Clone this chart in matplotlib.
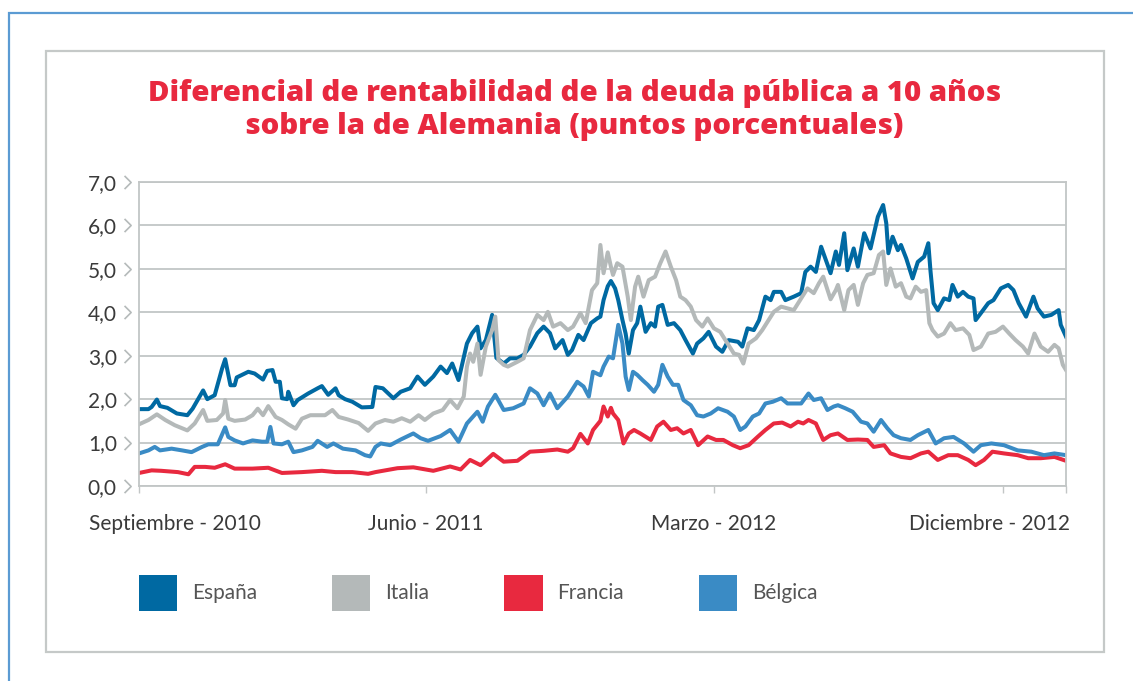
import pandas as pd
import matplotlib
matplotlib.use('Agg')
import matplotlib.pyplot as plt
import matplotlib.dates as mdates
from matplotlib.patches import Patch, Rectangle
from matplotlib.path import Path
import matplotlib.transforms as mtransforms

# Datos (dias desde el 1-sep-2010, puntos porcentuales)
inicio = pd.Timestamp('2010-09-01')
fin = pd.Timestamp('2013-01-30')

dias_espana = [0, 9, 12, 17, 20, 27, 36, 46, 51, 61, 65, 72, 79, 82, 87, 91, 93, 104, 110, 118,
               122, 127, 130, 134, 136, 141, 142, 147, 151, 161, 170, 174, 180, 187, 190, 196, 203, 212, 222, 225,
               232, 242, 249, 258, 265, 272, 280, 287, 293, 298, 304, 312, 317, 322, 325, 330, 336, 340, 347, 353,
               360, 366, 372, 379, 385, 391, 396, 403, 408, 412, 418, 423, 430, 436, 439, 442, 446, 449, 453, 456,
               460, 463, 466, 470, 474, 477, 482, 487, 491, 494, 498, 503, 509, 515, 520, 527, 531, 537, 542, 549,
               555, 561, 570, 574, 579, 585, 590, 596, 601, 604, 611, 615, 623, 630, 634, 639, 644, 649, 653, 658,
               663, 666, 671, 674, 680, 684, 690, 696, 703, 708, 711, 713, 717, 722, 725, 730, 736, 741, 747, 751,
               753, 756, 760, 766, 771, 774, 779, 784, 789, 794, 796, 801, 808, 813, 820, 827, 832, 837, 844, 851,
               855, 861, 868, 875, 877, 882]
espana = [1.77, 1.77, 1.82, 1.99, 1.84, 1.80, 1.67, 1.63, 1.78, 2.20, 2.00, 2.09, 2.70, 2.92, 2.32, 2.32, 2.50, 2.63, 2.59, 2.45,
          2.65, 2.67, 2.40, 2.40, 2.02, 2.00, 2.17, 1.86, 1.98, 2.13, 2.25, 2.30, 2.10, 2.25, 2.09, 2.00, 1.94, 1.81, 1.82, 2.28,
          2.25, 2.02, 2.17, 2.25, 2.52, 2.33, 2.52, 2.75, 2.60, 2.82, 2.44, 3.28, 3.52, 3.67, 3.17, 3.36, 3.94, 2.95, 2.82, 2.94,
          2.94, 3.02, 3.21, 3.52, 3.67, 3.52, 3.17, 3.36, 3.02, 3.13, 3.48, 3.36, 3.75, 3.86, 3.90, 4.28, 4.60, 4.72, 4.55, 4.28,
          3.82, 3.51, 3.05, 3.59, 3.75, 4.13, 3.55, 3.75, 3.67, 4.13, 4.17, 3.71, 3.75, 3.59, 3.36, 3.05, 3.28, 3.40, 3.55, 3.21,
          3.09, 3.36, 3.32, 3.21, 3.63, 3.59, 3.82, 4.36, 4.28, 4.47, 4.47, 4.28, 4.36, 4.44, 4.93, 5.05, 4.93, 5.51, 5.24, 4.90,
          5.40, 5.09, 5.82, 4.97, 5.47, 5.05, 5.82, 5.47, 6.20, 6.47, 6.05, 5.36, 5.74, 5.43, 5.55, 5.24, 4.78, 5.16, 5.28, 5.59,
          4.97, 4.21, 4.05, 4.32, 4.28, 4.63, 4.36, 4.47, 4.36, 4.32, 3.82, 3.98, 4.21, 4.28, 4.55, 4.63, 4.51, 4.21, 3.90, 4.36,
          4.09, 3.90, 3.94, 4.05, 3.71, 3.44]

dias_italia = [0, 9, 17, 25, 34, 46, 53, 61, 65, 74, 80, 82, 85, 91, 101, 108, 113, 118, 123, 130,
               136, 142, 149, 155, 163, 170, 177, 184, 190, 199, 209, 218, 225, 234, 242, 250, 258, 266, 272, 280,
               289, 296, 303, 309, 312, 315, 318, 322, 325, 330, 336, 339, 342, 347, 351, 360, 366, 372, 379, 385,
               389, 394, 401, 408, 413, 420, 425, 431, 436, 439, 442, 446, 449, 451, 455, 460, 465, 468, 472, 475,
               480, 485, 491, 496, 501, 506, 511, 515, 520, 525, 530, 536, 541, 547, 553, 560, 566, 571, 575, 580,
               587, 593, 599, 604, 611, 617, 623, 630, 636, 642, 647, 651, 658, 663, 665, 671, 675, 680, 684, 689,
               693, 699, 704, 708, 711, 715, 720, 725, 730, 734, 739, 744, 749, 752, 755, 760, 766, 772, 777, 784,
               790, 794, 801, 808, 815, 822, 828, 834, 841, 846, 852, 858, 865, 871, 875, 879, 882]
italia = [1.42, 1.52, 1.65, 1.52, 1.40, 1.28, 1.44, 1.75, 1.50, 1.52, 1.67, 1.98, 1.55, 1.50, 1.53, 1.63, 1.78, 1.63, 1.84, 1.59,
          1.52, 1.42, 1.32, 1.55, 1.63, 1.63, 1.63, 1.75, 1.59, 1.53, 1.45, 1.27, 1.44, 1.52, 1.48, 1.56, 1.48, 1.63, 1.52, 1.67,
          1.75, 1.98, 1.79, 2.06, 2.75, 3.05, 2.86, 3.28, 2.56, 3.21, 3.59, 3.90, 2.90, 2.79, 2.75, 2.86, 2.94, 3.59, 3.94, 3.82,
          4.01, 3.67, 3.75, 3.59, 3.67, 3.98, 3.75, 4.51, 4.67, 5.55, 4.90, 5.38, 5.05, 4.86, 5.13, 5.05, 4.36, 3.82, 4.59, 4.82,
          4.36, 4.74, 4.82, 5.13, 5.40, 5.05, 4.74, 4.36, 4.28, 4.13, 3.82, 3.67, 3.86, 3.63, 3.55, 3.28, 3.05, 3.02, 2.82, 3.28,
          3.40, 3.59, 3.82, 4.01, 4.13, 4.09, 4.05, 4.32, 4.55, 4.44, 4.67, 4.82, 4.30, 4.51, 4.63, 4.05, 4.51, 4.63, 4.17, 4.67,
          4.86, 4.90, 5.32, 5.40, 4.63, 5.01, 4.59, 4.67, 4.36, 4.32, 4.59, 4.47, 4.51, 3.75, 3.59, 3.44, 3.51, 3.75, 3.59, 3.63,
          3.48, 3.13, 3.21, 3.51, 3.55, 3.67, 3.51, 3.36, 3.21, 3.05, 3.51, 3.21, 3.09, 3.25, 3.17, 2.79, 2.67]

dias_francia = [0, 12, 21, 37, 47, 53, 63, 72, 82, 91, 108, 123, 136, 155, 174, 187, 203, 218, 225, 232,
                246, 261, 280, 296, 306, 315, 325, 337, 347, 360, 372, 385, 398, 408, 413, 420, 427, 432, 439, 442,
                446, 449, 451, 456, 461, 466, 471, 477, 487, 493, 499, 506, 512, 518, 525, 532, 541, 549, 556, 565,
                572, 580, 589, 596, 604, 612, 620, 627, 632, 637, 644, 651, 658, 665, 674, 684, 693, 699, 709, 715,
                725, 734, 744, 751, 760, 770, 779, 789, 796, 804, 812, 823, 836, 846, 858, 871, 882]
francia = [0.30, 0.36, 0.35, 0.32, 0.27, 0.44, 0.44, 0.42, 0.50, 0.40, 0.40, 0.42, 0.30, 0.32, 0.35, 0.32, 0.32, 0.28, 0.32, 0.35,
           0.41, 0.43, 0.35, 0.45, 0.38, 0.60, 0.48, 0.74, 0.56, 0.58, 0.79, 0.81, 0.84, 0.79, 0.87, 1.20, 0.98, 1.29, 1.50, 1.83,
           1.60, 1.80, 1.67, 1.52, 0.98, 1.21, 1.29, 1.21, 1.06, 1.37, 1.48, 1.29, 1.33, 1.21, 1.29, 0.94, 1.14, 1.06, 1.06, 0.94,
           0.87, 0.94, 1.14, 1.29, 1.44, 1.46, 1.37, 1.48, 1.44, 1.52, 1.44, 1.06, 1.17, 1.21, 1.06, 1.07, 1.06, 0.90, 0.94, 0.75,
           0.67, 0.64, 0.75, 0.79, 0.60, 0.71, 0.71, 0.60, 0.48, 0.60, 0.79, 0.75, 0.71, 0.64, 0.64, 0.67, 0.58]

dias_belgica = [0, 9, 15, 20, 31, 41, 50, 60, 66, 75, 82, 85, 91, 99, 108, 117, 122, 125, 128, 136,
                142, 147, 155, 165, 170, 179, 185, 194, 206, 215, 220, 225, 230, 239, 249, 261, 268, 275, 287, 296,
                304, 312, 322, 327, 332, 339, 347, 356, 366, 372, 379, 385, 391, 398, 408, 417, 423, 428, 432, 439,
                442, 447, 451, 456, 460, 463, 466, 470, 474, 479, 484, 490, 494, 498, 503, 508, 513, 518, 525, 531,
                537, 544, 551, 560, 566, 572, 577, 584, 590, 596, 603, 611, 617, 623, 630, 637, 642, 649, 655, 661,
                665, 672, 679, 687, 693, 699, 706, 712, 718, 725, 734, 741, 751, 758, 766, 775, 785, 794, 801, 811,
                823, 836, 849, 861, 871, 882]
belgica = [0.75, 0.82, 0.90, 0.82, 0.86, 0.82, 0.78, 0.90, 0.96, 0.96, 1.35, 1.13, 1.05, 0.98, 1.05, 1.02, 1.02, 1.36, 0.98, 0.96,
           1.02, 0.78, 0.82, 0.90, 1.04, 0.90, 0.98, 0.86, 0.82, 0.71, 0.68, 0.90, 0.98, 0.94, 1.07, 1.21, 1.10, 1.04, 1.15, 1.29,
           1.02, 1.44, 1.71, 1.48, 1.83, 2.10, 1.75, 1.79, 1.90, 2.25, 2.13, 1.86, 2.13, 1.79, 2.06, 2.40, 2.29, 2.06, 2.63, 2.55,
           2.75, 2.98, 2.94, 3.71, 3.28, 2.52, 2.21, 2.63, 2.56, 2.44, 2.33, 2.17, 2.33, 2.79, 2.52, 2.33, 2.33, 1.98, 1.86, 1.63,
           1.60, 1.67, 1.79, 1.71, 1.60, 1.29, 1.37, 1.60, 1.67, 1.90, 1.94, 2.02, 1.90, 1.90, 1.90, 2.13, 1.98, 2.02, 1.75, 1.83,
           1.86, 1.79, 1.71, 1.48, 1.44, 1.25, 1.52, 1.33, 1.17, 1.10, 1.06, 1.17, 1.29, 0.98, 1.10, 1.13, 0.98, 0.79, 0.94, 0.98,
           0.94, 0.82, 0.79, 0.71, 0.75, 0.71]

paises = ['España', 'Italia', 'Francia', 'Bélgica']
colores = ['#0069a2', '#b4b9b9', '#e8293f', '#3a8bc5']
series = [(dias_espana, espana), (dias_italia, italia), (dias_francia, francia), (dias_belgica, belgica)]

fechas_ticks = ['2010-09-01', '2011-06-01', '2012-03-01', '2012-12-01']
etiquetas_x = ['Septiembre - 2010', 'Junio - 2011', 'Marzo - 2012', 'Diciembre - 2012']
desplaz_x = [26, 0, 0, -10]  # puntos, para que las etiquetas extremas no se salgan

titulo = 'Diferencial de rentabilidad de la deuda pública a 10 años\nsobre la de Alemania (puntos porcentuales)'

rojo = '#e8293f'
gris = '#c2c6c6'
texto = '#3a3a3a'

plt.rcParams['font.family'] = ['Lato', 'DejaVu Sans']

fig = plt.figure(figsize=(11.33, 6.81), dpi=100)

# marcos de la pagina
fig.add_artist(Rectangle((9 / 1133, -0.1), 1.2, 1.1 - 13 / 681, transform=fig.transFigure,
                         fill=False, edgecolor='#5b9bd3', linewidth=1.6, clip_on=False))
fig.add_artist(Rectangle((46 / 1133, 1 - 652 / 681), 1058 / 1133, 601 / 681, transform=fig.transFigure,
                         fill=False, edgecolor='#c5c9c8', linewidth=1.6))

fig.text(0.507, 1 - 110 / 681, titulo, ha='center', va='center', color=rojo,
         fontsize=21.2, fontweight='heavy', family=['Open Sans', 'DejaVu Sans'], linespacing=1.22)

ax = fig.add_axes([139 / 1133, 1 - 486 / 681, 927 / 1133, 304 / 681])

for (dias, vals), color, nombre in zip(series, colores, paises):
    x = inicio + pd.to_timedelta(dias, unit='D')
    ax.plot(x, vals, color=color, linewidth=2.9, solid_joinstyle='round', label=nombre)

ax.set_xlim(inicio, fin)
ax.set_ylim(0, 7)
ax.set_yticks(range(8))
ax.set_yticklabels([f'{v:.1f}'.replace('.', ',') for v in range(8)])
ax.yaxis.grid(True, color=gris, linewidth=1.3)
ax.set_axisbelow(True)
for s in ax.spines.values():
    s.set_color(gris)
    s.set_linewidth(1.3)

ax.tick_params(axis='y', length=0, pad=16, labelsize=15, labelcolor=texto)
ax.set_xticks(pd.to_datetime(fechas_ticks + [str(fin.date())]))
ax.tick_params(axis='x', length=5, width=1, color=gris, labelbottom=False)

# marcas en forma de chevron junto a las etiquetas del eje y
chevron = Path([(-0.6, 1.0), (0.4, 0.0), (-0.6, -1.0)], [Path.MOVETO, Path.LINETO, Path.LINETO])
trans_y = mtransforms.blended_transform_factory(ax.transAxes, ax.transData)
ax.plot([-0.0115] * 8, range(8), linestyle='none', marker=chevron, markersize=9.5,
        markerfacecolor='none', markeredgecolor='#b5baba', markeredgewidth=1.2,
        transform=trans_y, clip_on=False)

trans_x = mtransforms.blended_transform_factory(ax.transData, ax.transAxes)
for f, etiqueta, dx in zip(fechas_ticks, etiquetas_x, desplaz_x):
    ax.annotate(etiqueta, xy=(mdates.date2num(pd.Timestamp(f)), 0), xycoords=trans_x, xytext=(dx, -27),
                textcoords='offset points', ha='center', va='center', fontsize=15, color=texto)

handles = [Patch(facecolor=c, edgecolor='none', label=p) for p, c in zip(paises, colores)]
fig.legend(handles=handles, loc='upper left', bbox_to_anchor=(139 / 1133, 1 - 575 / 681), ncol=4,
           frameon=False, fontsize=15, handlelength=1.83, handleheight=2.28, handletextpad=0.72,
           columnspacing=3.6, borderpad=0, borderaxespad=0, labelcolor='#555555')

fig.savefig('out.png', dpi=100)
